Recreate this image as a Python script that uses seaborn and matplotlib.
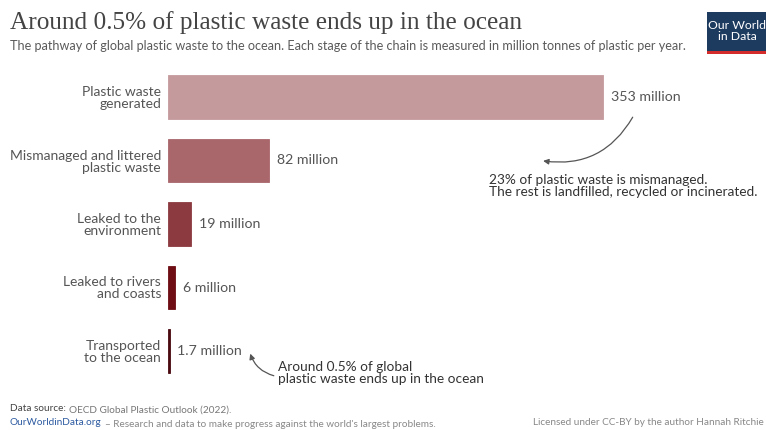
import matplotlib
matplotlib.use("Agg")
import matplotlib.pyplot as plt
import seaborn as sns
import pandas as pd
from matplotlib.patches import Rectangle

categories = ["Plastic waste\ngenerated", "Mismanaged and littered\nplastic waste",
              "Leaked to the\nenvironment", "Leaked to rivers\nand coasts", "Transported\nto the ocean"]
values = [353, 82, 19, 6, 1.7]
value_labels = ["353 million", "82 million", "19 million", "6 million", "1.7 million"]
colors = ["#c49a9c", "#a9676c", "#8c3a40", "#6e0d14", "#4a0a10"]

df = pd.DataFrame({"stage": categories, "value": values})

sns.set_theme(style="white")
plt.rcParams["font.family"] = ["Lato", "DejaVu Sans"]

W, H = 766, 430
fig = plt.figure(figsize=(W / 100, H / 100), dpi=100)
ax = fig.add_axes([168 / W, 1 - 382.75 / H, (W - 168) / W, (382.75 - 65.25) / H])

sns.barplot(data=df, x="value", y="stage", hue="stage", palette=colors, orient="h",
            width=0.69, legend=False, ax=ax, saturation=1)
for p, c in zip(ax.patches, colors):
    p.set_edgecolor(c)
    p.set_linewidth(0.6)
ax.set_xlim(0, 485)
ax.set_ylim(4.5, -0.5)
ax.set_xlabel("")
ax.set_ylabel("")
ax.set_xticks([])
ax.tick_params(axis="y", length=0, pad=5, labelsize=10, labelcolor="#555555")
for s in ax.spines.values():
    s.set_visible(False)
for lbl in ax.get_yticklabels():
    lbl.set_horizontalalignment("right")
    lbl.set_linespacing(1.0)

for i, (v, t) in enumerate(zip(values, value_labels)):
    ax.text(v + 6, i, t, va="center", ha="left", fontsize=10.2, color="#555555")

# annotations
ax.text(260, 1.4, "23% of plastic waste is mismanaged.\nThe rest is landfilled, recycled or incinerated.",
        ha="left", va="center", fontsize=9.8, color="#333333", linespacing=1.0)
ax.annotate("", xy=(302, 1.0), xytext=(378, 0.28),
            arrowprops=dict(arrowstyle="-|>", color="#555555", lw=0.9,
                            connectionstyle="arc3,rad=-0.35", mutation_scale=8))
ax.text(89, 4.34, "Around 0.5% of global\nplastic waste ends up in the ocean",
        ha="left", va="center", fontsize=9.8, color="#333333", linespacing=1.0)
ax.annotate("", xy=(66, 4.0), xytext=(88, 4.4),
            arrowprops=dict(arrowstyle="-|>", color="#555555", lw=0.9,
                            connectionstyle="arc3,rad=-0.3", mutation_scale=8))

# title & subtitle
fig.text(10 / W, 1 - 23 / H, "Around 0.5% of plastic waste ends up in the ocean",
         fontsize=18.2, color="#444444", family=["Liberation Serif", "DejaVu Serif"], va="center")
fig.text(10 / W, 1 - 46 / H,
         "The pathway of global plastic waste to the ocean. Each stage of the chain is measured in million tonnes of plastic per year.",
         fontsize=9.1, color="#5a5a5a", va="center")

# logo
fig.patches.append(Rectangle((707 / W, 1 - 52 / H), 59 / W, 40 / H, transform=fig.transFigure,
                             facecolor="#1d3a5f", edgecolor="none"))
fig.patches.append(Rectangle((707 / W, 1 - 54 / H), 59 / W, 3 / H, transform=fig.transFigure,
                             facecolor="#d42b2b", edgecolor="none"))
fig.text(737 / W, 1 - 31 / H, "Our World\nin Data", ha="center", va="center", color="white",
         fontsize=8.8, linespacing=1.0)

# footer
fs = 7.2
t1 = fig.text(10 / W, 1 - 411 / H, "Data source:", fontsize=fs, color="#444444", va="baseline")
ax.annotate("OECD Global Plastic Outlook (2022).", xy=(1, 0), xycoords=t1, xytext=(2.5, 0),
            textcoords="offset points", fontsize=fs, color="#777777", va="baseline", ha="left",
            annotation_clip=False)
t2 = fig.text(10 / W, 1 - 425 / H, "OurWorldinData.org", fontsize=fs, color="#2c5aa0", va="baseline")
ax.annotate("– Research and data to make progress against the world's largest problems.",
            xy=(1, 0), xycoords=t2, xytext=(2.5, 0), textcoords="offset points", fontsize=fs,
            color="#888888", va="baseline", ha="left", annotation_clip=False)
fig.text(764 / W, 1 - 425 / H, "Licensed under CC-BY by the author Hannah Ritchie",
         fontsize=fs, color="#888888", va="baseline", ha="right")

fig.savefig("out.png", dpi=100, facecolor="white")
